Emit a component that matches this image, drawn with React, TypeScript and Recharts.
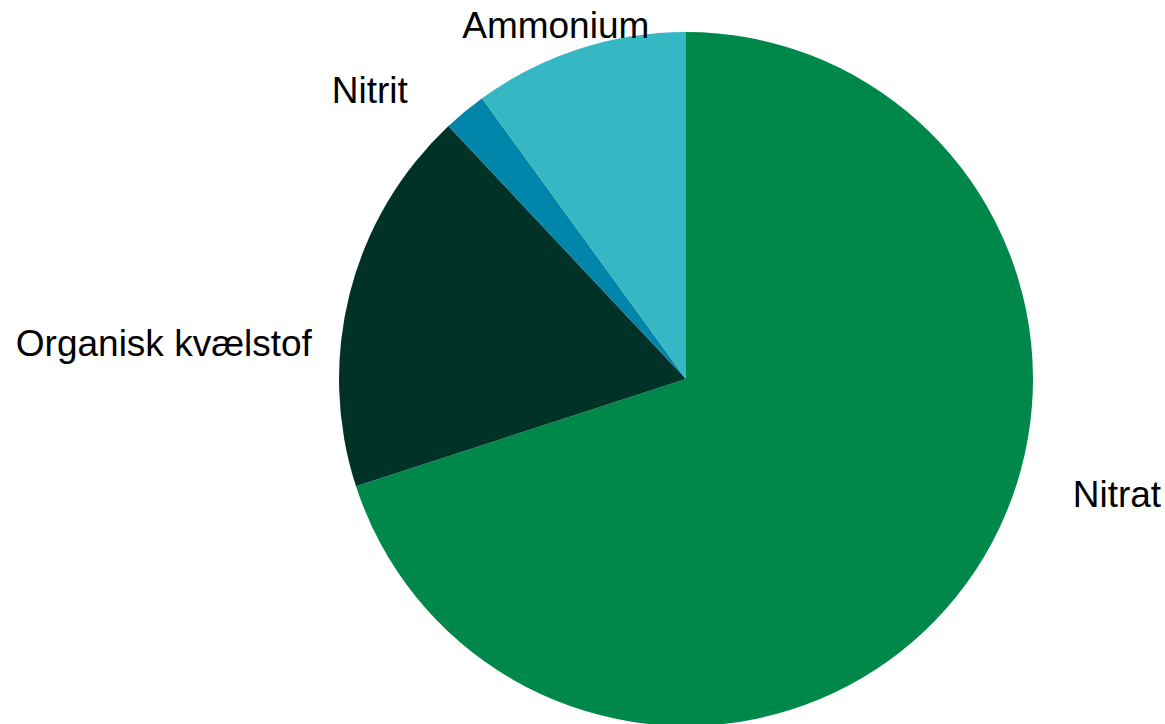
import React from "react";
import { PieChart, Pie, Cell } from "recharts";

const categories = ["Nitrat", "Organisk kvælstof", "Nitrit", "Ammonium"];
const shares = [70, 18, 2, 10];
const colors = ["#00884B", "#003228", "#0086AA", "#35B8C4"];

// label nudges from the slice's mid-angle point on the rim (dx, dy, anchor)
const labelNudge: Record<string, [number, number, "start" | "middle" | "end"]> = {
  Nitrat: [106, -76, "start"],
  "Organisk kvælstof": [-38, 63, "end"],
  Nitrit: [-57, -9, "end"],
  Ammonium: [-23, -11, "middle"],
};

const data = categories.map((name, i) => ({ name, value: shares[i] }));

const RAD = Math.PI / 180;

const renderLabel = (props: any) => {
  const { cx, cy, midAngle, outerRadius, name } = props;
  const px = cx + outerRadius * Math.cos(-midAngle * RAD);
  const py = cy + outerRadius * Math.sin(-midAngle * RAD);
  const [dx, dy, anchor] = labelNudge[name] || [0, 0, "middle"];
  return (
    <text
      x={px + dx}
      y={py + dy}
      textAnchor={anchor}
      fill="#000"
      fontSize={37}
      fontFamily="'Liberation Sans', Arial, sans-serif"
    >
      {name}
    </text>
  );
};

const App: React.FC = () => {
  return (
    <div style={{ position: "absolute", left: 0, top: 0, width: 1165, height: 724, background: "#fff" }}>
      <PieChart width={1165} height={724} margin={{ top: 0, right: 0, bottom: 0, left: 0 }}>
        <Pie
          data={data}
          dataKey="value"
          nameKey="name"
          cx={686}
          cy={379}
          outerRadius={347}
          startAngle={90}
          endAngle={-270}
          stroke="none"
          label={renderLabel}
          labelLine={false}
          isAnimationActive={false}
        >
          {data.map((d, i) => (
            <Cell key={d.name} fill={colors[i]} />
          ))}
        </Pie>
      </PieChart>
    </div>
  );
};

export default App;
